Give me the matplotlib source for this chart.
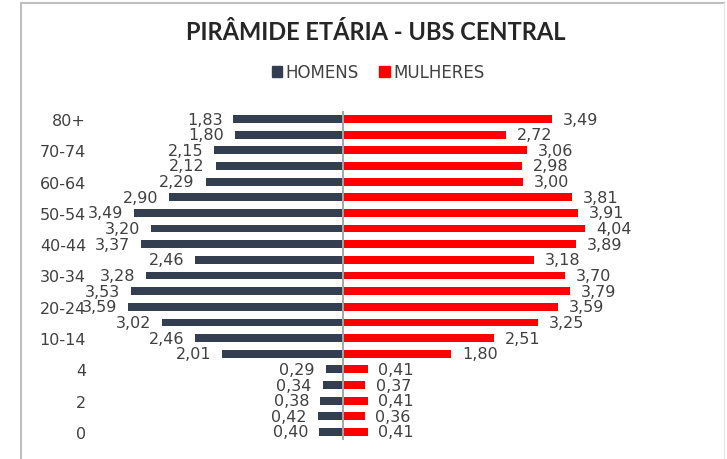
import matplotlib
matplotlib.use("Agg")
import matplotlib.pyplot as plt
from matplotlib.lines import Line2D
from matplotlib.patches import Rectangle

# Data (top row first)
age_groups = ["80+", "75-79", "70-74", "65-69", "60-64", "55-59", "50-54", "45-49",
              "40-44", "35-39", "30-34", "25-29", "20-24", "15-19", "10-14", "5-9",
              "4", "3", "2", "1", "0"]
homens = [1.83, 1.80, 2.15, 2.12, 2.29, 2.90, 3.49, 3.20, 3.37, 2.46, 3.28, 3.53,
          3.59, 3.02, 2.46, 2.01, 0.29, 0.34, 0.38, 0.42, 0.40]
mulheres = [3.49, 2.72, 3.06, 2.98, 3.00, 3.81, 3.91, 4.04, 3.89, 3.18, 3.70, 3.79,
            3.59, 3.25, 2.51, 1.80, 0.41, 0.37, 0.41, 0.36, 0.41]
shown_labels = ["80+", "70-74", "60-64", "50-54", "40-44", "30-34", "20-24", "10-14",
                "4", "2", "0"]

title = "PIRÂMIDE ETÁRIA - UBS CENTRAL"
c_men = "#333F50"
c_women = "#FF0000"
txt = "#404040"

plt.rcParams['font.family'] = ['DejaVu Sans']

W, H = 727, 460
fig = plt.figure(figsize=(W / 100, H / 100), dpi=100)
fig.patch.set_facecolor("white")

# axes geometry in pixels
ax_left, ax_right = 100, 700
ax_top, ax_bot = 112.2, 440.8
ax = fig.add_axes([ax_left / W, 1 - ax_bot / H, (ax_right - ax_left) / W, (ax_bot - ax_top) / H])
center = 343
ppu = 60.0
ax.set_xlim(-(center - ax_left) / ppu, (ax_right - center) / ppu)

n = len(age_groups)
ypos = list(range(n))
ax.set_ylim(n - 0.5, -0.5)

bh = 0.5
ax.barh(ypos, [-v for v in homens], height=bh, color=c_men, label="HOMENS")
ax.barh(ypos, mulheres, height=bh, color=c_women, label="MULHERES")
ax.axvline(0, color="#A6A6A6", lw=1.4, zorder=3)

fs_data = 11.5
fs_tick = 11.5
gap = 0.18
for y, v in zip(ypos, homens):
    ax.text(-v - gap, y, f"{v:.2f}".replace(".", ","), ha="right", va="center",
            fontsize=fs_data, color=txt)
for y, v in zip(ypos, mulheres):
    ax.text(v + gap, y, f"{v:.2f}".replace(".", ","), ha="left", va="center",
            fontsize=fs_data, color=txt)

ticks = [age_groups.index(l) for l in shown_labels]
ax.set_yticks(ticks)
ax.set_yticklabels(shown_labels, fontsize=fs_tick, color=txt)
ax.tick_params(axis="y", length=0, pad=10)
ax.set_xticks([])
for s in ax.spines.values():
    s.set_visible(False)

fig.text(376 / W, 1 - 33 / H, title, ha="center", va="center", fontsize=17,
         fontweight="bold", color="#262626", family=["Lato", "DejaVu Sans"])

handles = [Rectangle((0, 0), 1, 1, color=c_men), Rectangle((0, 0), 1, 1, color=c_women)]
fig.legend(handles, ["HOMENS", "MULHERES"], loc="center", bbox_to_anchor=(378 / W, 1 - 73 / H),
           ncol=2, frameon=False, fontsize=12, handlelength=0.65, handleheight=0.65,
           handletextpad=0.2, columnspacing=1.2, labelcolor=txt)

# chart border
bc = "#BFBFBF"
fig.add_artist(Line2D([21 / W, 21 / W], [0, 1 - 4 / H], color=bc, lw=1.5, transform=fig.transFigure))
fig.add_artist(Line2D([21 / W, 724 / W], [1 - 4 / H, 1 - 4 / H], color=bc, lw=1.5, transform=fig.transFigure))
fig.add_artist(Line2D([724 / W, 724 / W], [0, 1 - 4 / H], color="#E8E8E8", lw=1.0, transform=fig.transFigure))

fig.savefig("out.png", dpi=100, facecolor="white")
